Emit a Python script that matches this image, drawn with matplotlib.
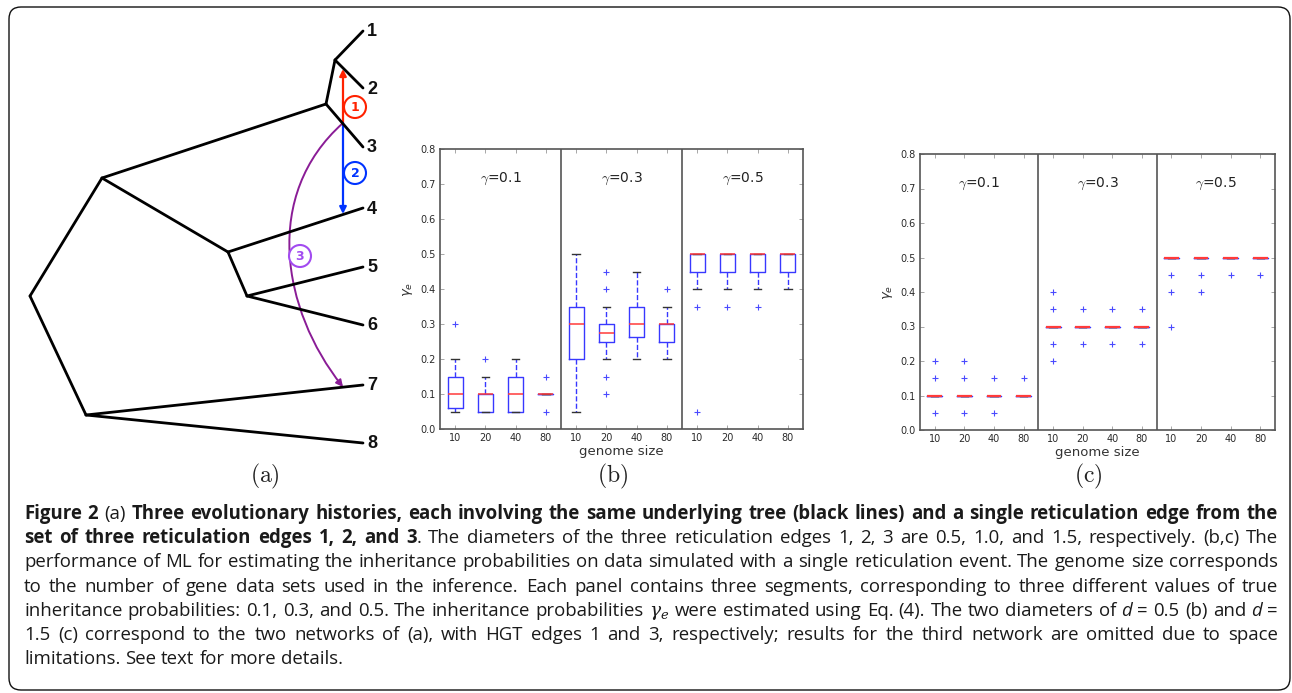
import matplotlib
matplotlib.use('Agg')
import matplotlib.pyplot as plt
from matplotlib.patches import FancyBboxPatch, Circle, FancyArrowPatch
from matplotlib.path import Path
import numpy as np

W, H, DPI = 1292, 693, 100

# ---------------- data ----------------
genome_sizes = [10, 20, 40, 80]
gamma_true = [0.1, 0.3, 0.5]

# panel (b): box statistics, 12 boxes (3 gamma groups x 4 genome sizes)
b_q1 = [0.06, 0.05, 0.05, 0.10, 0.20, 0.25, 0.2625, 0.25, 0.45, 0.45, 0.45, 0.45]
b_med = [0.10, 0.10, 0.10, 0.10, 0.30, 0.275, 0.30, 0.30, 0.50, 0.50, 0.50, 0.50]
b_q3 = [0.15, 0.10, 0.15, 0.10, 0.35, 0.30, 0.35, 0.30, 0.50, 0.50, 0.50, 0.50]
b_whislo = [0.05, 0.05, 0.05, 0.10, 0.05, 0.20, 0.20, 0.20, 0.40, 0.40, 0.40, 0.40]
b_whishi = [0.20, 0.15, 0.20, 0.10, 0.50, 0.35, 0.45, 0.35, 0.50, 0.50, 0.50, 0.50]
b_fliers = [[0.30], [0.20], [], [0.15, 0.05],
            [], [0.45, 0.40, 0.15, 0.10], [], [0.40],
            [0.35, 0.05], [0.35], [0.35], []]

# panel (c): all quartiles collapse on the median
c_med = [0.10, 0.10, 0.10, 0.10, 0.30, 0.30, 0.30, 0.30, 0.50, 0.50, 0.50, 0.50]
c_fliers = [[0.20, 0.15, 0.05], [0.20, 0.15, 0.05], [0.15, 0.05], [0.15],
            [0.40, 0.35, 0.25, 0.20], [0.35, 0.25], [0.35, 0.25], [0.35, 0.25],
            [0.45, 0.40, 0.30], [0.45, 0.40], [0.45], [0.45]]

# panel (a): tree layout (pixel coordinates of the diagram)
tree_nodes = {
    'root': (30, 296), 'A': (102, 178), 'B': (86, 415), 'C': (326, 104),
    'D': (335, 60), 'E': (228, 252), 'F': (247, 296),
    '1': (363, 31), '2': (363, 88), '3': (363, 147), '4': (363, 208),
    '5': (363, 267), '6': (363, 325), '7': (363, 385), '8': (363, 443),
}
tree_edges = [('root', 'A'), ('root', 'B'), ('A', 'C'), ('A', 'E'), ('C', 'D'),
              ('C', '3'), ('D', '1'), ('D', '2'), ('E', '4'), ('E', 'F'),
              ('F', '5'), ('F', '6'), ('B', '7'), ('B', '8')]
leaf_names = ['1', '2', '3', '4', '5', '6', '7', '8']

caption_lines = [
    [("Figure 2", 'b'), (" (a) ", 'r'),
     ("Three evolutionary histories, each involving the same underlying tree (black lines) and a single reticulation edge from the", 'b')],
    [("set of three reticulation edges 1, 2, and 3", 'b'),
     (". The diameters of the three reticulation edges 1, 2, 3 are 0.5, 1.0, and 1.5, respectively. (b,c) The", 'r')],
    [("performance of ML for estimating the inheritance probabilities on data simulated with a single reticulation event. The genome size corresponds", 'r')],
    [("to the number of gene data sets used in the inference. Each panel contains three segments, corresponding to three different values of true", 'r')],
    [("inheritance probabilities: 0.1, 0.3, and 0.5. The inheritance probabilities ", 'r'), (r"$\gamma_e$", 'm'),
     (" were estimated using Eq. (4). The two diameters of ", 'r'), ("d", 'i'), (" = 0.5 (b) and ", 'r'),
     ("d", 'i'), (" =", 'r')],
    [("1.5 (c) correspond to the two networks of (a), with HGT edges 1 and 3, respectively; results for the third network are omitted due to space", 'r')],
    [("limitations. See text for more details.", 'r')],
]

# ---------------- figure ----------------
fig = plt.figure(figsize=(W / DPI, H / DPI), dpi=DPI)
fig.patch.set_facecolor('white')
ax0 = fig.add_axes([0, 0, 1, 1])
ax0.set_xlim(0, W)
ax0.set_ylim(H, 0)
ax0.axis('off')

# border
ax0.add_patch(FancyBboxPatch((9, 7), 1281, 683, boxstyle='round,pad=0,rounding_size=12',
                             fc='none', ec='#111111', lw=1.0))

# tree
for a, b in tree_edges:
    (x1, y1), (x2, y2) = tree_nodes[a], tree_nodes[b]
    ax0.plot([x1, x2], [y1, y2], color='black', lw=2.0, solid_capstyle='round')
for nm in leaf_names:
    x, y = tree_nodes[nm]
    ax0.text(x + 9, y + 1, nm, ha='center', va='center', fontsize=13, fontweight='bold',
             family='Liberation Sans', color='#111111')

# reticulation edges
src = (343, 123)
red, blue, purple, violet = '#ff2200', '#0033ff', '#8a1c96', '#a24bf0'
ax0.add_patch(FancyArrowPatch(src, (343, 69), arrowstyle='-|>', mutation_scale=10,
                              color=red, lw=1.6, shrinkA=0, shrinkB=0))
ax0.add_patch(FancyArrowPatch(src, (343, 214), arrowstyle='-|>', mutation_scale=10,
                              color=blue, lw=1.6, shrinkA=0, shrinkB=0))
curve = Path([src, (262, 195), (282, 310), (343, 387)],
             [Path.MOVETO, Path.CURVE4, Path.CURVE4, Path.CURVE4])
ax0.add_patch(FancyArrowPatch(path=curve, arrowstyle='-|>', mutation_scale=10,
                              color=purple, lw=1.4))
for (cx, cy), lab, col in [((355, 107), '1', red), ((355, 173), '2', blue), ((300, 256), '3', violet)]:
    ax0.add_patch(Circle((cx, cy), 11, fc='white', ec=col, lw=1.5, zorder=5))
    ax0.text(cx, cy + 0.5, lab, ha='center', va='center', color=col, fontsize=9,
             fontweight='bold', zorder=6)

# sub-figure labels
for x, lab in [(265, '(a)'), (613, '(b)'), (1088, '(c)')]:
    ax0.text(x, 476, r'$\mathrm{' + lab + '}$', ha='center', va='center', fontsize=17,
             math_fontfamily='cm', color='#222222')


# ---------------- box panels ----------------
def px_axes(left, right, top, bottom):
    return fig.add_axes([left / W, (H - bottom) / H, (right - left) / W, (bottom - top) / H])


def draw_panel(ax, q1, med, q3, wlo, whi, fliers, med_lw):
    positions = np.arange(1, 13)
    stats = [dict(med=med[i], q1=q1[i], q3=q3[i], whislo=wlo[i], whishi=whi[i], fliers=fliers[i])
             for i in range(len(med))]
    ax.bxp(stats, positions=positions, widths=0.5, manage_ticks=False,
           boxprops=dict(color='#3838ff', lw=1.0),
           whiskerprops=dict(color='#3838ff', lw=1.0, ls='--'),
           capprops=dict(color='#333333', lw=1.0),
           medianprops=dict(color='#ff3a3a', lw=med_lw),
           flierprops=dict(marker='+', markeredgecolor='#4a4aff', markersize=5, mew=0.8, ls='none'))
    ax.set_xlim(0.5, 12.5)
    ax.set_ylim(0, 0.8)
    ax.set_xticks(positions)
    ax.set_xticklabels([str(g) for g in genome_sizes] * len(gamma_true))
    yt = np.round(np.arange(0, 0.81, 0.1), 1)
    ax.set_yticks(yt)
    ax.set_yticklabels([f'{v:.1f}' for v in yt])
    ax.tick_params(direction='in', top=True, right=True, length=3, width=0.6,
                   color='#999999', labelsize=7, labelcolor='#2a2a2a', pad=3)
    for sp in ax.spines.values():
        sp.set_color('#555555')
        sp.set_linewidth(1.2)
    for xd in (4.5, 8.5):
        ax.axvline(xd, color='#555555', lw=1.2)
    for k, g in enumerate(gamma_true):
        ax.text(2.5 + 4 * k, 0.714, r'$\gamma$=' + f'{g}', ha='center', va='center',
                fontsize=10, math_fontfamily='cm', color='#222222')
    ax.set_xlabel('genome size', fontsize=9.5, color='#333333', labelpad=1)
    ax.set_ylabel(r'$\gamma_e$', fontsize=9.5, color='#333333', labelpad=4)


axb = px_axes(440, 803, 149, 429)
draw_panel(axb, b_q1, b_med, b_q3, b_whislo, b_whishi, b_fliers, 1.1)
axc = px_axes(920, 1275, 154, 430)
draw_panel(axc, c_med, c_med, c_med, c_med, c_med, c_fliers, 1.6)

# ---------------- caption (justified) ----------------
renderer = fig.canvas.get_renderer()
CAP_FONT = 'Open Sans'
kinds = {
    'r': dict(family=CAP_FONT, fontweight='normal'),
    'b': dict(family=CAP_FONT, fontweight='bold'),
    'i': dict(family=CAP_FONT, fontstyle='italic'),
    'm': dict(family=CAP_FONT, math_fontfamily='dejavuserif'),
}


def split_words(segs):
    words = []
    new_word = True
    for text, kind in segs:
        parts = text.split(' ')
        for i, p in enumerate(parts):
            if i > 0:
                new_word = True
            if p == '':
                continue
            if new_word or not words:
                words.append([(p, kind)])
            else:
                words[-1].append((p, kind))
            new_word = False
    return words


def measure(s, kind, fs):
    t = ax0.text(0, 0, s, fontsize=fs, **kinds[kind])
    w = t.get_window_extent(renderer).width
    t.remove()
    return w


# font size chosen so the last (unjustified) line has its reference length
base = 12.0
last_w = measure(caption_lines[-1][0][0], 'r', base)
fs = base * 316.0 / last_w
space_w = measure('x x', 'r', fs) - measure('xx', 'r', fs)

x_left, x_right = 24, 1278
y0, dy = 519, 24.2
for li, segs in enumerate(caption_lines):
    words = split_words(segs)
    widths = [[measure(p, k, fs) for p, k in wd] for wd in words]
    tot = sum(sum(w) for w in widths)
    last = li == len(caption_lines) - 1
    gap = space_w if last else (x_right - x_left - tot) / (len(words) - 1)
    x = x_left
    y = y0 + dy * li
    for wd, ws in zip(words, widths):
        for (p, k), w in zip(wd, ws):
            ax0.text(x, y, p, fontsize=fs, ha='left', va='baseline', color='#1a1a1a', **kinds[k])
            x += w
        x += gap

fig.savefig('out.png', dpi=DPI, facecolor='white')
